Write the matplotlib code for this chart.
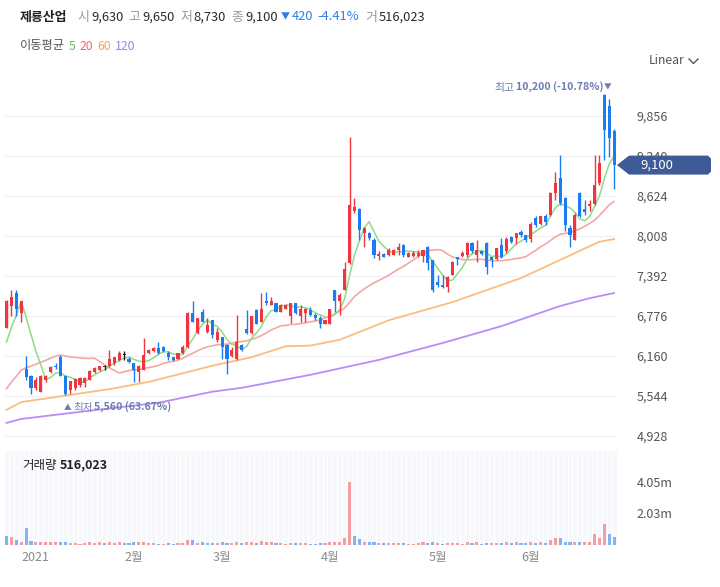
import numpy as np
import pandas as pd
import matplotlib
matplotlib.use("Agg")
import matplotlib.pyplot as plt
from matplotlib.patches import Polygon
from matplotlib.lines import Line2D
from matplotlib.transforms import IdentityTransform

plt.rcParams['font.family'] = ['Noto Sans CJK KR', 'DejaVu Sans']

W, H = 720, 587

name = '제룡산업'
month_labels = ['2021', '2월', '3월', '4월', '5월', '6월']
month_idx = [6, 26, 44, 66, 88, 107]

# daily candles, 2020-12-22 .. 2021-06-24
opens = [6590, 6930, 7130, 6820, 5960, 5850, 5660, 5610, 5790, 5920,
         6010, 6140, 5850, 5640, 5660, 5710, 5740, 5790, 5920, 5940,
         5990, 6000, 6050, 6100, 6180, 6120, 6050, 5920, 5940, 6200,
         6230, 6280, 6300, 6200, 6140, 6120, 6200, 6300, 6820, 6510,
         6840, 6530, 6710, 6410, 6450, 6330, 6160, 6120, 6330, 6570,
         6510, 6870, 6690, 7000, 6950, 6970, 6840, 6890, 6770, 6970,
         6770, 6820, 6870, 6790, 6750, 6660, 6660, 7180, 7000, 7180,
         7590, 8400, 8430, 8050, 8050, 7950, 7700, 7730, 7720, 7720,
         7790, 7870, 7690, 7700, 7700, 7700, 7840, 7640, 7300, 7250,
         7230, 7410, 7680, 7700, 7720, 7900, 7720, 7770, 7900, 7680,
         7650, 7870, 7770, 8000, 7970, 8070, 8020, 7960, 8280, 8200,
         8320, 8330, 8670, 8900, 8600, 8130, 7950, 8670, 8430, 8470,
         8500, 8820, 10180, 10010, 9630]
highs = [7020, 7170, 7180, 7000, 6160, 5860, 5830, 5860, 5860, 6010,
         6050, 6180, 5870, 5780, 5820, 5830, 5840, 5940, 5990, 6010,
         6020, 6260, 6150, 6230, 6230, 6140, 6050, 6020, 6430, 6270,
         6300, 6380, 6310, 6230, 6150, 6210, 6330, 6830, 7000, 6750,
         6890, 6740, 6720, 6590, 6450, 6340, 6300, 6790, 6340, 6870,
         6780, 6880, 7130, 7150, 7070, 6980, 6960, 6960, 6980, 6980,
         6950, 6900, 6920, 6820, 6770, 6720, 6890, 7180, 7130, 7610,
         9530, 8590, 8440, 8140, 8070, 7970, 7770, 7750, 7820, 7810,
         7900, 7880, 7760, 7770, 7790, 7800, 7850, 7640, 7410, 7410,
         7390, 7620, 7690, 7770, 7910, 7910, 7950, 7780, 7910, 7690,
         7830, 7970, 8000, 8010, 8060, 8100, 8030, 8220, 8310, 8320,
         8340, 8680, 8990, 9250, 8610, 8180, 8360, 8680, 8560, 8560,
         9250, 9250, 10200, 10120, 9650]
lows = [6590, 6780, 6780, 6690, 5790, 5580, 5640, 5600, 5760, 5900,
        5960, 5850, 5560, 5580, 5640, 5690, 5690, 5790, 5900, 5930,
        5940, 5990, 6020, 6090, 6100, 6050, 5760, 5760, 5940, 6190,
        6220, 6190, 6220, 6100, 6080, 6110, 6190, 6290, 6680, 6500,
        6680, 6510, 6430, 6380, 6120, 5890, 6150, 6100, 6240, 6500,
        6500, 6650, 6680, 6950, 6940, 6830, 6830, 6880, 6670, 6810,
        6690, 6690, 6770, 6710, 6590, 6650, 6650, 6840, 6790, 7170,
        7570, 8360, 7950, 7840, 7940, 7670, 7640, 7680, 7700, 7710,
        7720, 7690, 7680, 7690, 7690, 7610, 7480, 7150, 7220, 7200,
        7150, 7400, 7560, 7690, 7690, 7740, 7610, 7720, 7430, 7530,
        7640, 7670, 7740, 7900, 7880, 8000, 7920, 7920, 8150, 8170,
        8180, 8310, 8560, 8480, 8080, 7840, 7950, 8300, 8330, 8390,
        8480, 8790, 9180, 9230, 8730]
closes = [7000, 7070, 6890, 7000, 5830, 5660, 5790, 5850, 5850, 5990,
          5990, 5850, 5570, 5770, 5800, 5820, 5820, 5930, 5980, 6010,
          5990, 6120, 6140, 6210, 6180, 6070, 5940, 6000, 6180, 6250,
          6290, 6200, 6230, 6140, 6100, 6200, 6300, 6820, 6690, 6740,
          6690, 6640, 6480, 6530, 6300, 6120, 6260, 6380, 6250, 6510,
          6770, 6660, 6890, 6970, 7000, 6840, 6950, 6950, 6970, 6820,
          6890, 6890, 6790, 6740, 6660, 6710, 6890, 7000, 7100, 7500,
          8490, 8450, 8100, 8130, 7970, 7720, 7730, 7690, 7790, 7790,
          7840, 7720, 7740, 7750, 7750, 7790, 7590, 7180, 7250, 7220,
          7380, 7610, 7650, 7740, 7900, 7770, 7790, 7730, 7530, 7640,
          7820, 7690, 7960, 7920, 8050, 8020, 7950, 8200, 8180, 8310,
          8220, 8670, 8820, 8510, 8180, 8020, 8330, 8310, 8380, 8500,
          8790, 9130, 9640, 9520, 9100]
volumes = [560000, 490000, 320000, 190000, 1060000, 240000, 170000, 150000, 150000, 170000,
           170000, 170000, 170000, 80000, 70000, 60000, 70000, 170000, 90000, 130000,
           70000, 130000, 80000, 150000, 80000, 70000, 130000, 150000, 170000, 90000,
           70000, 60000, 60000, 70000, 60000, 80000, 90000, 320000, 320000, 90000,
           130000, 80000, 90000, 70000, 130000, 90000, 80000, 170000, 80000, 170000,
           150000, 90000, 240000, 190000, 150000, 80000, 70000, 60000, 80000, 70000,
           80000, 70000, 60000, 60000, 80000, 70000, 170000, 150000, 150000, 390000,
           4052000, 520000, 360000, 150000, 130000, 170000, 90000, 70000, 80000, 70000,
           90000, 80000, 60000, 60000, 70000, 130000, 90000, 130000, 80000, 60000,
           80000, 90000, 70000, 60000, 130000, 80000, 130000, 60000, 90000, 70000,
           80000, 90000, 170000, 90000, 170000, 110000, 90000, 130000, 100000, 170000,
           90000, 280000, 450000, 450000, 170000, 150000, 170000, 150000, 130000, 150000,
           650000, 450000, 1320000, 710000, 516023]

# closes before the window, only used to seed MA5 / MA20
prev_closes = [5050, 5080, 5100, 5120, 5150, 5200, 5230, 5280, 5330, 5380,
               5510, 5900, 5950, 6000, 5970, 5940, 5960, 5930, 7050]

# long averages
ma60_idx = [0, 3, 21, 29, 42, 50, 57, 62, 68, 78, 91, 105, 121, 124]
ma60_val = [5330, 5450, 5650, 5760, 6010, 6140, 6310, 6320, 6410, 6710, 6990, 7360, 7920, 7960]
ma120_idx = [0, 3, 15, 31, 42, 48, 62, 76, 89, 101, 113, 119, 124]
ma120_val = [5130, 5190, 5300, 5440, 5610, 5670, 5870, 6100, 6360, 6620, 6930, 7050, 7130]

price_ticks = [4928, 5544, 6160, 6776, 7392, 8008, 8624, 9240, 9856]

UP, DOWN, FLAT = '#f0353f', '#1b7cf2', '#222222'
VUP, VDOWN = '#f59da1', '#82b3f5'
C5, C20, C60, C120 = '#8edb88', '#f6a6a6', '#fbbd80', '#b98cf6'
ANN = '#6b7db3'

o = np.array(opens); h = np.array(highs); l = np.array(lows); c = np.array(closes)
v = np.array(volumes)
n = len(c)
x = np.arange(n)

all_c = pd.Series(prev_closes + closes, dtype=float)
ma5 = all_c.rolling(5).mean().to_numpy()[len(prev_closes):]
ma20 = all_c.rolling(20).mean().to_numpy()[len(prev_closes):]

fig = plt.figure(figsize=(W / 100, H / 100), dpi=100)


def fy(y):
    return 1 - y / H


# pixel layout: candle i sits at 6.5 + 4.9 * i
x0px, step = 6.5, 4.9
xl = ((5 - x0px) / step, (617 - x0px) / step)

ax = fig.add_axes([5 / W, fy(447), 612 / W, 367 / H])
axv = fig.add_axes([5 / W, fy(544.5), 612 / W, 93.5 / H])

# price panel
ax.set_xlim(*xl)
ax.set_ylim(9856 - (447 - 116) * 15.4, 9856 - (80 - 116) * 15.4)
for t in price_ticks:
    ax.axhline(t, color='#f0f0f5', lw=0.9, zorder=0)

ax.plot(ma120_idx, ma120_val, color=C120, lw=1.3, zorder=1)
ax.plot(ma60_idx, ma60_val, color=C60, lw=1.3, zorder=1)
ax.plot(x, ma20, color=C20, lw=1.2, zorder=1)
ax.plot(x, ma5, color=C5, lw=1.1, zorder=1)

col = np.where(c > o, UP, np.where(c < o, DOWN, FLAT))
ax.vlines(x, l, h, colors=col, lw=1, zorder=3)
ax.bar(x, np.maximum(np.abs(c - o), 14), bottom=np.minimum(o, c), width=0.64,
       color=col, linewidth=0, zorder=4)

ax.yaxis.tick_right()
ax.set_yticks(price_ticks, [f'{t:,}' for t in price_ticks])
ax.tick_params(axis='y', length=0, pad=14, labelsize=9, labelcolor='#555555')
ax.set_xticks([])
for s in ax.spines.values():
    s.set_visible(False)

# volume panel
axv.set_xlim(*xl)
vmax = v.max()
axv.set_ylim(0, vmax * 93.5 / 62.5)
axv.set_facecolor('#f7f8fc')
axv.vlines(x + 0.5, 0, vmax * 2, colors='white', lw=0.7, zorder=0)
prev = np.r_[prev_closes[-1], c[:-1]]
axv.bar(x, v, width=0.62, color=np.where(c >= prev, VUP, VDOWN), linewidth=0, zorder=2)
axv.yaxis.tick_right()
axv.set_yticks([vmax / 2, vmax], [f'{vmax / 2e6:.2f}m', f'{vmax / 1e6:.2f}m'])
axv.tick_params(axis='y', length=0, pad=14, labelsize=9, labelcolor='#555555')
axv.set_xticks(month_idx, month_labels)
axv.tick_params(axis='x', length=0, pad=5, labelsize=9, labelcolor='#8a8a8a')
for s in axv.spines.values():
    s.set_visible(False)

fig.canvas.draw()
rend = fig.canvas.get_renderer()


def put_row(pieces, x_start, y_px, size):
    xp = x_start
    for text, color, weight, gap, *rel in pieces:
        xp += gap
        fs = size * rel[0] if rel else size
        t = fig.text(xp / W, fy(y_px), text, color=color, fontsize=fs,
                     fontweight=weight, ha='left', va='center')
        xp = t.get_window_extent(renderer=rend).x1


gray, dark, blue = '#9a9a9a', '#2a2a2a', '#2f7fe8'
chg = closes[-1] - closes[-2]
pct = chg / closes[-2] * 100
arrow = '▼' if chg < 0 else '▲'
put_row([(name, '#222222', 'bold', 0),
         ('시', gray, 'normal', 10), (f'{opens[-1]:,}', dark, 'medium', 2),
         ('고', gray, 'normal', 5), (f'{highs[-1]:,}', dark, 'medium', 2),
         ('저', gray, 'normal', 5), (f'{lows[-1]:,}', dark, 'medium', 2),
         ('종', gray, 'normal', 5), (f'{closes[-1]:,}', dark, 'medium', 2),
         (arrow, blue, 'normal', 3, 0.7), (f'{abs(chg):,}', blue, 'medium', 2),
         (f'{pct:.2f}%', blue, 'medium', 4),
         ('거', gray, 'normal', 6), (f'{volumes[-1]:,}', dark, 'medium', 2)],
        20, 17, 9.3)

put_row([('이동평균', '#555555', 'normal', 0), ('5', '#55c455', 'normal', 4),
         ('20', '#f06b6b', 'normal', 4), ('60', '#f5a25c', 'normal', 4),
         ('120', '#a27ef0', 'normal', 4)], 20, 46, 8.8)

fig.text(649 / W, fy(61), 'Linear', color='#555555', fontsize=8.8, ha='left', va='center')
fig.add_artist(Line2D([689, 693.5, 698], [H - 59, H - 63.5, H - 59], color='#555555',
                      lw=1, transform=IdentityTransform()))

put_row([('거래량', '#222222', 'normal', 0), (f'{volumes[-1]:,}', '#222222', 'bold', 3)],
        22, 465, 9)

# high / low markers
ih = int(np.argmax(h))
hx, hy = ax.transData.transform((ih, h[ih]))
fig.text((hx + 3.5) / W, (hy + 6) / H, '▼', color=ANN, fontsize=5.5, ha='center', va='center')
t_num = fig.text((hx - 0.5) / W, (hy + 6) / H, f'{h[ih]:,} ({(c[-1] - h[ih]) / h[ih] * 100:.2f}%)',
                 color=ANN, fontsize=7.6, fontweight='bold', ha='right', va='center')
bx = t_num.get_window_extent(renderer=rend).x0
fig.text((bx - 1.5) / W, (hy + 6) / H, '최고', color=ANN, fontsize=7.8, ha='right', va='center')

il = int(np.argmin(l))
lx, ly = ax.transData.transform((il, l[il]))
fig.text((lx + 2.5) / W, (ly - 13) / H, '▲', color=ANN, fontsize=5.5, ha='center', va='center')
put_row([('최저', ANN, 'normal', 0),
         (f'{l[il]:,} ({(c[-1] - l[il]) / l[il] * 100:.2f}%)', ANN, 'bold', 1.5)],
        lx + 8, H - (ly - 13), 7.6)

# current price tag (covers the 9,240 label, as in the source chart)
_, yc = ax.transData.transform((0, c[-1]))
tag = Polygon([(617, yc), (629, yc + 9.5), (708, yc + 9.5), (711, yc + 6.5),
               (711, yc - 6.5), (708, yc - 9.5), (629, yc - 9.5)],
              closed=True, facecolor='#3f5b97', edgecolor='none',
              transform=IdentityTransform())
fig.add_artist(tag)
fig.text(640 / W, yc / H, f'{closes[-1]:,}', color='white', fontsize=9.5,
         ha='left', va='center')

fig.savefig('out.png', dpi=100)
